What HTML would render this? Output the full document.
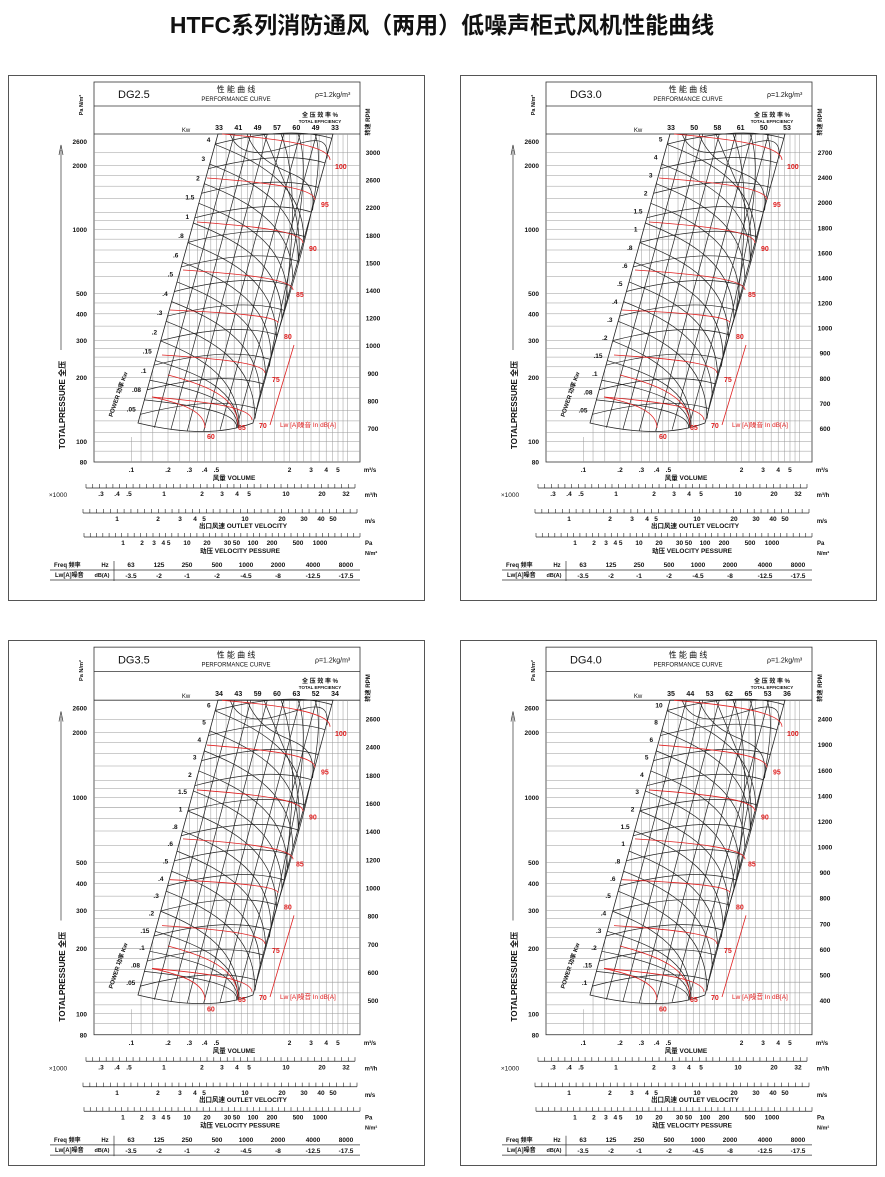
<!DOCTYPE html>
<html><head><meta charset="utf-8"><style>
body{margin:0;background:#fff;width:885px;height:1172px;overflow:hidden}
svg text{font-family:"Liberation Sans","Noto Sans CJK SC",sans-serif}
</style></head><body>
<svg id="s" width="885" height="1172" xmlns="http://www.w3.org/2000/svg">
<text x="442" y="33" text-anchor="middle" font-size="23" font-weight="bold" fill="#111">HTFC系列消防通风（两用）低噪声柜式风机性能曲线</text>
</svg>
<script>
var S=document.getElementById('s');var NS='http://www.w3.org/2000/svg';
function el(p,t,a,txt){var e=document.createElementNS(NS,t);for(var k in a)e.setAttribute(k,a[k]);if(txt!=null)e.textContent=txt;p.appendChild(e);return e;}
function T(g,x,y,s,fs,o){o=o||{};var a={x:x,y:y,'font-size':fs||7,fill:o.fill||'#111','text-anchor':o.a||'middle'};if(o.b)a['font-weight']='bold';if(o.tr)a.transform=o.tr;if(o.ff)a['font-family']=o.ff;return el(g,'text',a,s);}
function L(g,x1,y1,x2,y2,c,w){el(g,'line',{x1:x1,y1:y1,x2:x2,y2:y2,stroke:c||'#222','stroke-width':w||0.6});}
function P(g,d,c,w){el(g,'path',{d:d,stroke:c||'#222','stroke-width':w||0.7,fill:'none'});}
var panels=[
{ox:8,oy:75,sy:1,name:'DG2.5',kw:['33','41','49','57','60','49','33'],pw:['4','3','2','1.5','1','.8','.6','.5','.4','.3','.2','.15','.1','.08','.05'],rpm:['3000','2600','2200','1800','1500','1400','1200','1000','900','800','700']},
{ox:460,oy:75,sy:1,name:'DG3.0',kw:['33','50','58','61','50','53'],pw:['5','4','3','2','1.5','1','.8','.6','.5','.4','.3','.2','.15','.1','.08','.05'],rpm:['2700','2400','2000','1800','1600','1400','1200','1000','900','800','700','600']},
{ox:8,oy:640,sy:1.02,name:'DG3.5',kw:['34','43','59','60','63','52','34'],pw:['6','5','4','3','2','1.5','1','.8','.6','.5','.4','.3','.2','.15','.1','.08','.05'],rpm:['2600','2400','1800','1600','1400','1200','1000','800','700','600','500']},
{ox:460,oy:640,sy:1.02,name:'DG4.0',kw:['35','44','53','62','65','53','36'],pw:['10','8','6','5','4','3','2','1.5','1','.8','.6','.5','.4','.3','.2','.15','.1'],rpm:['2400','1900','1600','1400','1200','1000','900','800','700','600','500','400']}];
function arc(g,s,e,c,w){P(g,'M'+s+' C '+(s[0]+0.55*(e[0]-s[0]))+','+(s[1]+0.2*(e[1]-s[1]))+' '+e[0]+','+(s[1]+0.45*(e[1]-s[1]))+' '+e,c,w);}
panels.forEach(function(p){
 var g0=el(S,'g',{transform:'translate('+p.ox+','+p.oy+')'});
 el(g0,'rect',{x:0.5,y:0.5,width:416,height:525,fill:'none',stroke:'#555','stroke-width':1});
 var g=el(g0,'g',{transform:'scale(1,'+p.sy+')'});
 el(g,'rect',{x:86,y:7,width:266,height:380,fill:'none',stroke:'#333','stroke-width':0.8});
 L(g,86,31,352,31,'#333',0.8);L(g,86,59,352,59,'#333',0.8);
 T(g,110,23,p.name,11,{ff:'"Liberation Serif",serif',a:'start'});
 T(g,228,17,'性 能 曲 线',8);T(g,228,26,'PERFORMANCE CURVE',6);
 T(g,307,22,'ρ=1.2kg/m³',7,{ff:'"Liberation Serif",serif',a:'start'});
 T(g,312,42,'全 压 效 率 %',6,{b:1});T(g,312,48,'TOTAL EFFICIENCY',4.5,{b:1});
 function py(v){return 387-212*Math.log10(v/80);}
 function qx(v){return 245+121.6*Math.log10(v);}
 var BL=[130,348],TL=[210,59],TR=[325,59],BR=[245,348];
 function le(t){return [BL[0]+t*(TL[0]-BL[0]),BL[1]+t*(TL[1]-BL[1])];}
 function re(t){return [BR[0]+t*(TR[0]-BR[0]),BR[1]+t*(TR[1]-BR[1])];}
 [90,100,110,125,140,160,180,200,225,250,275,300,350,400,450,500,600,700,800,900,1000,1100,1200,1400,1600,1800,2000,2300].forEach(function(v){L(g,86,py(v),352,py(v),'#999',0.5);});
 [[2600,'2600'],[2000,'2000'],[1000,'1000'],[500,'500'],[400,'400'],[300,'300'],[200,'200'],[100,'100'],[80,'80']].forEach(function(a){T(g,79,py(a[0])+2.5,a[1],6.5,{a:'end',b:1});});
 var qs=[.1,.12,.15,.2,.25,.3,.35,.4,.45,.5,.6,.7,.8,.9,1,1.2,1.5,1.8,2,2.3,2.6,3,3.5,4,4.5,5,5.5,6];
 qs.forEach(function(v){var x=qx(v);if(x>352)return;var y0;if(x<130)y0=362;else if(x<210)y0=348-(x-130)/80*289;else y0=59;L(g,x,y0,x,387,'#999',0.5);});
 P(g,'M'+TL+' L'+TR+' L'+BR+' Q 200 365 '+BL+' Z','#222',0.8);
 for(var i=1;i<7;i++){var f=i/7;P(g,'M'+(TL[0]+f*115)+',59 L'+(BL[0]+f*115)+','+(350+6*Math.sin(f*3.14)),'#222',0.7);}
 for(var i=0;i<12;i++){var t=0.03+i*0.085;if(t>0.98)break;var a=le(t),b=re(Math.min(t+0.02,1));P(g,'M'+a+' Q '+((a[0]+b[0])/2+15)+','+((a[1]+b[1])/2-16)+' '+b,'#222',0.7);}
 for(var i=0;i<14;i++){var t=0.08+i*0.068;var a=le(t);var te=t-0.33;var b;if(te<0){b=[a[0]+(BR[0]-a[0])*0.85,352];}else b=re(te);arc(g,a,b,'#222',0.7);}
 for(var i=0;i<6;i++){var x=222+i*17;var b=re(0.95-i*0.18);P(g,'M'+x+',59 C '+(x+20)+',110 '+(b[0]+4)+','+(b[1]-40)+' '+(b[0]-2)+','+(b[1]+10),'#222',0.7);}
 var red=[[[214,59],[322,85],'100',[327,91]],[[199,103],[307,125],'95',[313,129]],[[189,147],[295,168],'90',[301,173]],[[175,195],[285,215],'85',[288,219]],[[162,235],[270,248],'80',[276,261]],[[154,280],[257,298],'75',[264,304]],[[144,322],[244,345],'70',[251,350]],[[144,322],[197,353],'60',[199,361]],[[160,300],[230,350],'65',[230,352]]];
 red.forEach(function(r){arc(g,r[0],r[1],'#e02020',0.8);T(g,r[3][0],r[3][1]+3,r[2],7,{fill:'#e02020',b:1,a:'start'});});
 L(g,262,350,286,270,'#e02020',0.8);
 T(g,272,352,'Lw [A]噪音   In dB[A]',6.5,{fill:'#e02020',a:'start'});
 T(g,178,57,'Kw',6,{a:'middle'});
 p.kw.forEach(function(k,i){T(g,211+i*(116/(p.kw.length-1)),55,k,7,{b:1});});
 p.pw.forEach(function(k,i){var t=1-(i+0.3)/p.pw.length;var a=le(t);T(g,a[0]-6,a[1]+2,k,6.5,{b:1,a:'end'});});
 p.rpm.forEach(function(k,i){T(g,365,77+i*(276/(p.rpm.length-1))+3,k,6.5,{b:1});});
 T(g,75,30,'Pa N/m²',5.5,{tr:'rotate(-90 75 30)',b:1});
 T(g,362,47,'转速 RPM',6,{tr:'rotate(-90 362 47)',b:1});
 T(g,57,330,'TOTALPRESSURE  全压',8,{tr:'rotate(-90 57 330)',b:1});
 L(g,53,75,53,275,'#333',0.7);P(g,'M51,80 L53,70 L55,80','#333',0.7);
 T(g,112,320,'POWER 功率 Kw',6,{tr:'rotate(-71 112 320)',b:1});
 [[.1,'.1'],[.2,'.2'],[.3,'.3'],[.4,'.4'],[.5,'.5'],[2,'2'],[3,'3'],[4,'4'],[5,'5']].forEach(function(a){T(g,qx(a[0]),397,a[1],6.5,{b:1});});
 T(g,362,397,'m³/s',6,{b:1});T(g,226,405,'风量    VOLUME',6.5,{b:1});
 function scale(y,x1,x2,n,labs,ly){L(g,x1,y,x2,y,'#222',0.7);for(var i=0;i<=n;i++){var x=x1+(x2-x1)*i/n;L(g,x,y-4,x,y,'#222',0.6);}labs.forEach(function(a){T(g,a[0],ly,a[1],6.5,{b:1});});}
 scale(413,78,347,40,[[93,'.3'],[109,'.4'],[121,'.5'],[156,'1'],[194,'2'],[214,'3'],[229,'4'],[241,'5'],[278,'10'],[314,'20'],[338,'32']],421);
 T(g,50,422,'×1000',6.5);T(g,363,422,'m³/h',6,{b:1});
 scale(438,75,349,40,[[109,'1'],[150,'2'],[172,'3'],[187,'4'],[196,'5'],[237,'10'],[274,'20'],[296,'30'],[313,'40'],[325,'50']],446);
 T(g,235,453,'出口风速   OUTLET  VELOCITY',6.5,{b:1});T(g,362,448,'m/s',6,{b:1});
 scale(462,76,352,44,[[115,'1'],[134,'2'],[146,'3'],[158,'4 5'],[179,'10'],[199,'20'],[224,'30 50'],[245,'100'],[264,'200'],[290,'500'],[312,'1000']],470);
 T(g,232,478,'动压   VELOCITY   PESSURE',6.5,{b:1});T(g,357,470,'Pa',6,{b:1,a:'start'});T(g,357,480,'N/m²',5.5,{b:1,a:'start'});
 L(g,42,495,352,495,'#333',0.7);L(g,42,505,352,505,'#333',0.7);L(g,106,486,106,506,'#333',0.7);
 T(g,46,492,'Freq  频率',6,{b:1,a:'start'});T(g,97,492,'Hz',6,{b:1});
 T(g,47,502,'Lw[A]噪音',6,{b:1,a:'start'});T(g,94,502,'dB(A)',5.5,{b:1});
 var xs=[123,151,179,209,238,270,305,338];
 ['63','125','250','500','1000','2000','4000','8000'].forEach(function(v,i){T(g,xs[i],492,v,6.5,{b:1});});
 ['-3.5','-2','-1','-2','-4.5','-8','-12.5','-17.5'].forEach(function(v,i){T(g,xs[i],503,v,6.5,{b:1});});
});
</script>
</body></html>
